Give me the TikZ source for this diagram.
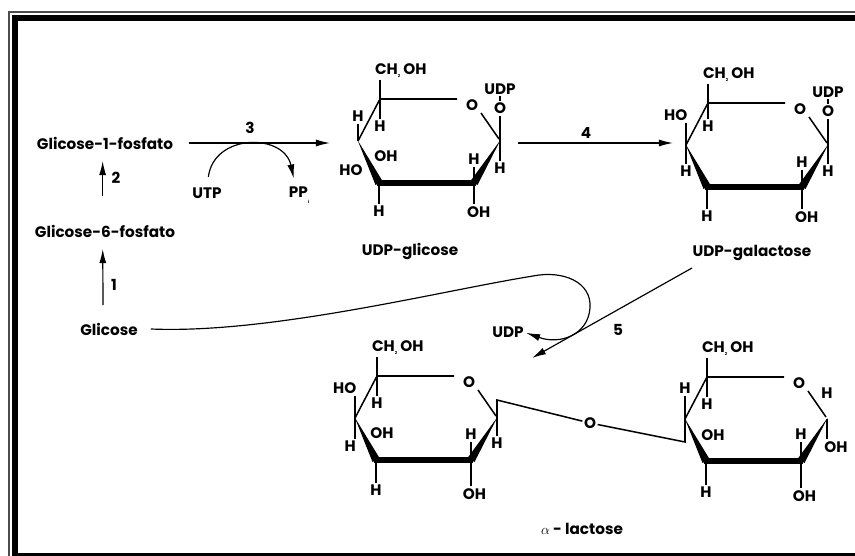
\documentclass[tikz,border=0pt]{standalone}
\usepackage{fontspec}
\setmainfont{Poppins}
\usetikzlibrary{positioning, calc, arrows.meta}
\newcommand{\chtwo}{CH\raisebox{-2.5pt}{\fontsize{3.5}{4}\selectfont 2} OH}
\tikzset{
    base/.style={
        font=\bfseries\fontsize{13}{15}\selectfont,
        inner sep=0pt,
        align=center
    },
    atom/.style={
        base,
        inner sep=1.2pt
    },
    bond/.style={
        line width=1.3pt
    },
    flow/.style={
        -{Latex[length=12pt, width=6pt]},
        line width=1pt
    },
    hexring/.pic={
        \coordinate (-c5) at (0,0);
        \coordinate (-c4) at (-22,42);
        \coordinate (-c3) at (-1,84);
        \coordinate (-c2) at (94,84);
        \coordinate (-c1) at (120,42);
        \node[atom] (-o) at (92,6) {O};
        \draw[bond] (77,0) -- (0,0) -- (-22,42);
        \fill (-22.5,41) -- (2.5,82) -- (-4.5,86) -- cycle;
        \draw[line width=5pt] (-3,84) -- (96,84);
        \fill (120.5,41) -- (97.5,86) -- (90.5,82) -- cycle;
        \draw[bond] (101,14) -- (119,40);
    }
}

\begin{document}
\begin{tikzpicture}[x=0.03cm, y=-0.03cm]
  \useasboundingbox (0,0) rectangle (855,556);

  % Frame
  \begin{scope}
    \clip (0,0) rectangle (855,556);
    \draw[line width=1pt, black!70] (9,12) rectangle (900,600);
    \draw[line width=5pt] (15,18) rectangle (900,555.5);
  \end{scope}

  % Left column
  \node[base] (g1p) at (105,143) {Glicose-1-fosfato};
  \node[base] (g6p) at (105,231) {Glicose-6-fosfato};
  \node[base] (glc) at (109,329) {Glicose};
  \draw[flow, shorten <=24pt, shorten >=10pt] ([xshift=-2pt]g6p.north) -- ([xshift=-2pt]g1p.south);
  \draw[flow, shorten <=15pt, shorten >=10pt] ([xshift=-5pt]glc.north) -- ([xshift=-2pt]g6p.south);
  \node[base] (n2) at (116,178) {2};
  \node[base] (n1) at (114,285) {1};

  % Step 3
  \coordinate (a3end) at (330,143);
  \draw[flow, shorten <=13pt] (g1p) -- (a3end);
  \node[base] (n3) at (250,128) {3};
  \node[base] (utp) at (207,193) {UTP};
  \node[base] (ppi) at (299,195) {PP\raisebox{-5pt}{\fontsize{3.5}{4}\selectfont i}};
  \draw[flow, shorten <=9pt, shorten >=7pt] (utp.north) .. controls (214,133) and (284,133) .. ([xshift=-3pt]ppi.north);

  % UDP-glicose
  \pic (r1) at (380,99) {hexring};
  \draw[bond] (r1-c5) -- ++(0,-19) node[atom, above right, xshift=-6pt] (r1ch) {\chtwo};
  \draw[bond] (r1-c5) -- ++(0,20) node[atom, below] (r1h5) {H};
  \draw[bond] (r1-c4) -- ++(0,-17) node[atom, above] (r1h4) {H};
  \node[atom] (r1ho4) at (351,170) {HO};
  \node[atom] (r1oh3) at (386,156) {OH};
  \draw[bond] (r1-c3) -- ++(0,21) node[atom, below] (r1h3) {H};
  \draw[bond] (r1-c2) -- ++(0,-16) node[atom, above] (r1h2) {H};
  \draw[bond] (r1-c2) -- ++(0,21) node[atom, below, xshift=4pt] (r1oh2) {OH};
  \draw[bond] (r1-c1) -- ++(0,-25) node[atom, above] (r1o1) {O};
  \draw[bond] (r1o1) -- ++(0,-12) node[atom, above] (r1udp) {UDP};
  \draw[bond] (r1-c1) -- ++(0,20) node[atom, below] (r1h1) {H};
  \node[base] (udpglc) at (410,251) {UDP-glicose};

  % Step 4
  \coordinate (a4s) at (518,143);
  \coordinate (a4e) at (673,143);
  \draw[flow] (a4s) -- (a4e);
  \node[base] (n4) at (586,133) {4};

  % UDP-galactose
  \pic (r2) at (708,103) {hexring};
  \draw[bond] (r2-c5) -- ++(0,-19) node[atom, above right, xshift=-6pt] (r2ch) {\chtwo};
  \draw[bond] (r2-c5) -- ++(0,16) node[atom, below] (r2h5) {H};
  \draw[bond] (r2-c4) -- ++(0,-22) node[atom, above left, xshift=3pt] (r2ho4) {HO};
  \draw[bond] (r2-c4) -- ++(0,19) node[atom, below] (r2h4) {H};
  \draw[bond] (r2-c3) -- ++(0,22) node[atom, below] (r2h3) {H};
  \draw[bond] (r2-c2) -- ++(0,-17) node[atom, above] (r2h2) {H};
  \draw[bond] (r2-c2) -- ++(0,22) node[atom, below, xshift=4pt] (r2oh2) {OH};
  \draw[bond] (r2-c1) -- ++(0,-26) node[atom, above] (r2o1) {O};
  \draw[bond] (r2o1) -- ++(0,-12) node[atom, above] (r2udp) {UDP};
  \draw[bond] (r2-c1) -- ++(0,19) node[atom, below] (r2h1) {H};
  \node[base] (udpgal) at (752,253) {UDP-galactose};

  % Step 5
  \node[base] (udp) at (508,332) {UDP};
  \coordinate (a5s) at (692,268);
  \coordinate (a5e) at (532,358);
  \draw[flow] (a5s) -- (a5e);
  \node[base] (n5) at (618,330) {5};
  \draw[flow, shorten >=2pt] ([xshift=11pt]glc.east) .. controls (270,334) and (440,291) .. (533,276)
    .. controls (563,270) and (592,282) .. (590,308)
    .. controls (588,335) and (560,345) .. (udp.east);

  % alpha-lactose
  \pic (l1) at (377,376) {hexring};
  \draw[bond] (l1-c5) -- ++(0,-19) node[atom, above right, xshift=-6pt] (l1ch) {\chtwo};
  \draw[bond] (l1-c5) -- ++(0,20) node[atom, below] (l1h5) {H};
  \draw[bond] (l1-c4) -- ++(0,-22) node[atom, above left, xshift=3pt] (l1ho4) {HO};
  \draw[bond] (l1-c4) -- ++(0,21) node[atom, below, xshift=-4pt] (l1h4) {H};
  \node[atom] (l1oh3) at (382,433) {OH};
  \draw[bond] (l1-c3) -- ++(0,23) node[atom, below] (l1h3) {H};
  \draw[bond] (l1-c2) -- ++(0,-18) node[atom, above] (l1h2) {H};
  \draw[bond] (l1-c2) -- ++(0,26) node[atom, below, xshift=3pt] (l1oh2) {OH};
  \draw[bond] (l1-c1) -- ++(0,18) node[atom, below] (l1h1) {H};
  \node[atom] (gly) at (590,423) {O};
  \draw[bond] (l1-c1) -- ++(0,-18) -- (gly);

  \pic (l2) at (707,377) {hexring};
  \draw[bond] (gly) -- ($(l2-c4)+(0,23)$) -- (l2-c4);
  \draw[bond] (l2-c4) -- ++(0,-23) node[atom, above] (l2h4) {H};
  \draw[bond] (l2-c5) -- ++(0,-19) node[atom, above right, xshift=-6pt] (l2ch) {\chtwo};
  \draw[bond] (l2-c5) -- ++(0,20) node[atom, below] (l2h5) {H};
  \node[atom] (l2oh3) at (713,435) {OH};
  \draw[bond] (l2-c3) -- ++(0,24) node[atom, below] (l2h3) {H};
  \draw[bond] (l2-c2) -- ++(0,-19) node[atom, above] (l2h2) {H};
  \draw[bond] (l2-c2) -- ++(0,27) node[atom, below, xshift=3pt] (l2oh2) {OH};
  \node[atom] (l2h1) at (827,393) {H};
  \draw[bond] (l2-c1) -- ++(0,20) node[atom, below right, xshift=-4pt] (l2oh1) {OH};
  \node[base] (lact) at (582,529) {$\alpha$ - lactose};
\end{tikzpicture}
\end{document}
